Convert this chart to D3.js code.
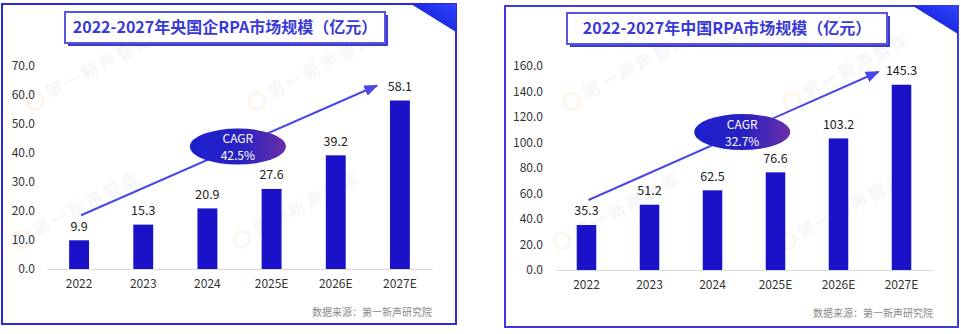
<!DOCTYPE html>
<html>
<head>
<meta charset="utf-8">
<script src="https://cdn.jsdelivr.net/npm/d3@7"></script>
<style>
  html, body { margin: 0; padding: 0; background: #ffffff; }
  svg { display: block; }
  text { font-family: "Noto Sans CJK SC", "Noto Sans", sans-serif; }
</style>
</head>
<body>
<svg id="chart" width="961" height="334"></svg>
<script>
// Shared categories
const years = ["2022", "2023", "2024", "2025E", "2026E", "2027E"];

// Central & state-owned enterprise RPA market (亿元)
const soeTitle = "2022-2027年央国企RPA市场规模（亿元）";
const soeValues = [9.9, 15.3, 20.9, 27.6, 39.2, 58.1];
const soeTicks = [0, 10, 20, 30, 40, 50, 60, 70];
const soeCagr = "42.5%";

// China RPA market (亿元)
const cnTitle = "2022-2027年中国RPA市场规模（亿元）";
const cnValues = [35.3, 51.2, 62.5, 76.6, 103.2, 145.3];
const cnTicks = [0, 20, 40, 60, 80, 100, 120, 140, 160];
const cnCagr = "32.7%";

const sourceNote = "数据来源：第一新声研究院";
const watermark = "第一新声智库";

const svg = d3.select("#chart");
const defs = svg.append("defs");

const ellGrad = defs.append("linearGradient").attr("id", "ellGrad")
  .attr("x1", "0%").attr("y1", "0%").attr("x2", "100%").attr("y2", "0%");
ellGrad.append("stop").attr("offset", "0%").attr("stop-color", "#1c1fd0");
ellGrad.append("stop").attr("offset", "55%").attr("stop-color", "#2a22c0");
ellGrad.append("stop").attr("offset", "100%").attr("stop-color", "#6a2fa6");

const triGrad = defs.append("linearGradient").attr("id", "triGrad")
  .attr("x1", "0%").attr("y1", "100%").attr("x2", "100%").attr("y2", "0%");
triGrad.append("stop").attr("offset", "0%").attr("stop-color", "#0d14c8");
triGrad.append("stop").attr("offset", "100%").attr("stop-color", "#2f44ff");

defs.append("marker").attr("id", "arrowHead")
  .attr("viewBox", "0 0 10 10").attr("refX", 9).attr("refY", 5)
  .attr("markerWidth", 7).attr("markerHeight", 7)
  .attr("orient", "auto")
  .append("path").attr("d", "M0,1 L10,5 L0,9 Z").attr("fill", "#4848e6");

function drawPanel(cfg) {
  const g = svg.append("g");
  const { box } = cfg;

  // panel frame
  g.append("rect")
    .attr("x", box.x).attr("y", box.y)
    .attr("width", box.w).attr("height", box.h)
    .attr("fill", "#ffffff")
    .attr("stroke", cfg.frameColor).attr("stroke-width", 2);

  // corner triangle
  g.append("path")
    .attr("d", `M${box.x + box.w - 45},${box.y} L${box.x + box.w},${box.y} L${box.x + box.w},${box.y + 28} Z`)
    .attr("fill", "url(#triGrad)");

  // faint watermarks
  cfg.marks.forEach(([mx, my]) => {
    const wm = g.append("g").attr("transform", `translate(${mx},${my}) rotate(-28)`);
    wm.append("circle").attr("cx", -12).attr("cy", -5).attr("r", 8)
      .attr("fill", "none").attr("stroke", "#f0b060").attr("stroke-width", 3).attr("opacity", 0.12);
    wm.append("text").attr("x", 2).attr("y", 0)
      .attr("font-size", 17).attr("font-weight", 700).attr("fill", "#6a6ab8")
      .attr("letter-spacing", 3).attr("opacity", 0.06)
      .text(watermark);
  });

  // title box with offset shadow
  const tb = cfg.titleBox;
  g.append("rect")
    .attr("x", tb.x + 3).attr("y", tb.y + 3).attr("width", tb.w).attr("height", tb.h)
    .attr("fill", "#3a3ad0");
  g.append("rect")
    .attr("x", tb.x).attr("y", tb.y).attr("width", tb.w).attr("height", tb.h)
    .attr("fill", "#ffffff").attr("stroke", "#5656e0").attr("stroke-width", 2);
  g.append("text")
    .attr("x", tb.x + tb.w / 2).attr("y", tb.y + tb.h / 2 + 1)
    .attr("text-anchor", "middle").attr("dominant-baseline", "middle")
    .attr("font-size", 16).attr("font-weight", 700).attr("fill", "#3a3ad6")
    .text(cfg.title);

  const x = d3.scaleBand().domain(years).range([cfg.plot.x0, cfg.plot.x1]).paddingInner(0.69).paddingOuter(0.345);
  const y = d3.scaleLinear().domain([0, d3.max(cfg.ticks)]).range([cfg.plot.y0, cfg.plot.y1]);

  // y axis (labels only)
  const yAxis = g.append("g")
    .attr("transform", `translate(${cfg.plot.yLabelX},0)`)
    .call(d3.axisLeft(y).tickValues(cfg.ticks).tickFormat(d3.format(".1f")).tickSize(0).tickPadding(0));
  yAxis.select(".domain").remove();
  yAxis.selectAll("text").attr("font-size", 12).attr("fill", "#333")
    .attr("font-family", "'Noto Sans CJK SC', sans-serif");

  // x axis
  const xAxis = g.append("g")
    .attr("transform", `translate(0,${cfg.plot.y0})`)
    .call(d3.axisBottom(x).tickSize(0).tickPadding(10));
  xAxis.select(".domain").attr("stroke", "#d9d9d9").attr("stroke-width", 1.2);
  xAxis.selectAll("text").attr("font-size", 12).attr("fill", "#333")
    .attr("font-family", "'Noto Sans CJK SC', sans-serif");

  // bars
  g.selectAll(".bar").data(cfg.values).enter().append("rect")
    .attr("x", (d, i) => x(years[i]))
    .attr("y", d => y(d))
    .attr("width", x.bandwidth())
    .attr("height", d => y(0) - y(d))
    .attr("fill", "#1a12c9");

  // value labels
  g.selectAll(".val").data(cfg.values).enter().append("text")
    .attr("x", (d, i) => x(years[i]) + x.bandwidth() / 2)
    .attr("y", d => y(d) - 13)
    .attr("text-anchor", "middle").attr("dominant-baseline", "middle")
    .attr("font-size", 12.5).attr("fill", "#222")
    .text(d => d.toFixed(1));

  // growth arrow
  const n = years.length - 1;
  const sx = x(years[0]) + x.bandwidth() / 2 + 2;
  const sy = y(cfg.values[0]) - 25;
  const ex = x(years[n]) + x.bandwidth() / 2 - 23;
  const ey = y(cfg.values[n]) - cfg.arrowGap;
  g.append("line")
    .attr("x1", sx).attr("y1", sy).attr("x2", ex).attr("y2", ey)
    .attr("stroke", "#4848e6").attr("stroke-width", 2)
    .attr("marker-end", "url(#arrowHead)");

  // CAGR badge
  const t = 0.53;
  const cx = sx + (ex - sx) * t;
  const cy = sy + (ey - sy) * t;
  g.append("ellipse").attr("cx", cx).attr("cy", cy)
    .attr("rx", 48).attr("ry", 18).attr("fill", "url(#ellGrad)");
  g.append("text").attr("x", cx).attr("y", cy - 3.5)
    .attr("text-anchor", "middle").attr("font-family", "Lato, sans-serif")
    .attr("font-size", 12).attr("fill", "#ffffff").text("CAGR");
  g.append("text").attr("x", cx).attr("y", cy + 13.5)
    .attr("text-anchor", "middle").attr("font-family", "Lato, sans-serif")
    .attr("font-size", 12).attr("fill", "#ffffff").text(cfg.cagr);

  // source
  g.append("text")
    .attr("x", cfg.plot.x1).attr("y", cfg.sourceY)
    .attr("text-anchor", "end").attr("dominant-baseline", "middle")
    .attr("font-size", 10).attr("fill", "#8a8a8a")
    .text(sourceNote);
}

drawPanel({
  box: { x: 2, y: 4, w: 454, h: 320 },
  frameColor: "#2a2ad8",
  titleBox: { x: 65, y: 12, w: 320, h: 31 },
  title: soeTitle,
  values: soeValues,
  ticks: soeTicks,
  cagr: soeCagr,
  plot: { x0: 47, x1: 432, y0: 269, y1: 66, yLabelX: 35 },
  arrowGap: 15,
  sourceY: 313,
  marks: [[48, 100], [270, 100], [35, 238], [255, 238]]
});

drawPanel({
  box: { x: 505, y: 6, w: 453, h: 321 },
  frameColor: "#3b3be0",
  titleBox: { x: 567, y: 13, w: 320, h: 31 },
  title: cnTitle,
  values: cnValues,
  ticks: cnTicks,
  cagr: cnCagr,
  plot: { x0: 555, x1: 933, y0: 270, y1: 66, yLabelX: 543 },
  arrowGap: 13,
  sourceY: 314,
  marks: [[585, 100], [805, 100], [575, 240], [800, 240]]
});
</script>
</body>
</html>
